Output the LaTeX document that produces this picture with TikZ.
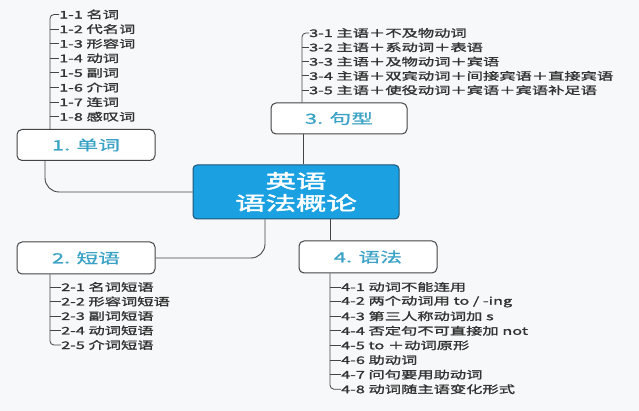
\documentclass[tikz,border=0pt]{standalone}
\usepackage{fontspec}
\setmainfont{Noto Sans CJK SC}
\newfontfamily\itemfont{Noto Sans CJK SC}[FakeStretch=1.55,FakeBold=1.6]
\newfontfamily\labfont{Noto Sans CJK SC}[FakeStretch=1.55,FakeBold=1]
\newfontfamily\titlefont{Noto Sans CJK SC}[FakeStretch=1.6,FakeBold=2.5]
\definecolor{bgc}{HTML}{F6F8FA}
\definecolor{cfill}{HTML}{1BA1E2}
\definecolor{cedge}{HTML}{1F5577}
\definecolor{labc}{HTML}{3AA2C6}
\definecolor{linec}{HTML}{444444}
\definecolor{itemc}{HTML}{333333}
\begin{document}
\begin{tikzpicture}[x=1pt,y=-1pt,
  topic/.style={draw=linec,line width=1pt,fill=white,rounded corners=5pt,
    minimum width=138pt,minimum height=31pt,inner sep=0pt,
    font=\labfont\fontsize{14}{16}\selectfont,text=labc},
  centre/.style={draw=cedge,line width=1pt,fill=cfill,rounded corners=4pt,
    minimum width=206pt,minimum height=54pt,inner sep=0pt,align=center,
    font=\titlefont\fontsize{19}{22}\selectfont,text=white},
  item/.style={anchor=west,inner sep=0pt,font=\itemfont\fontsize{10.5}{12}\selectfont,text=itemc},
  conn/.style={draw=linec,line width=0.9pt},
  tick/.style={draw=linec,line width=0.8pt}]
\fill[bgc] (0,0) rectangle (639,411);
\useasboundingbox (0,0) rectangle (639,411);

% main nodes
\node[centre] (c) at (296,192) {英语\\语法概论};
\node[topic] (n1) at (86,145) {1. 单词};
\node[topic,minimum width=136pt] (n3) at (339,118.5) {3. 句型};
\node[topic,minimum height=32pt] (n2) at (86,258) {2. 短语};
\node[topic,minimum height=32pt] (n4) at (368,257) {4. 语法};

% connectors to centre
\coordinate (a1) at (45,160);
\draw[conn,rounded corners=14pt] (n1.south -| a1) |- (c.west);
\coordinate (a3) at (303,0);
\draw[conn] (n3.south -| a3) -- (c.north -| a3);
\coordinate (a2) at (265,0);
\draw[conn,rounded corners=14pt] (c.south -| a2) |- (n2.east);
\coordinate (a4) at (330,0);
\draw[conn] (c.south -| a4) -- (n4.north -| a4);

% list 1
\coordinate (s1) at (50,0);
\foreach \i/\t [evaluate=\i as \y using 14.5+(\i-1)*14.6] in
  {1/{1-1 名词},2/{1-2 代名词},3/{1-3 形容词},4/{1-4 动词},5/{1-5 副词},6/{1-6 介词},7/{1-7 连词},8/{1-8 感叹词}}
  {\node[item] (i1\i) at (59,\y) {\t};}
\draw[tick,rounded corners=4pt] (i11.west) -- (i11.west -| s1) -- (n1.north -| s1);
\foreach \i in {2,...,8} {\draw[tick] (i1\i.west -| s1) -- (i1\i.west);}

% list 3
\coordinate (s3) at (302,0);
\foreach \i/\t [evaluate=\i as \y using 33+(\i-1)*14.3] in
  {1/{3-1 主语＋不及物动词},2/{3-2 主语＋系动词＋表语},3/{3-3 主语＋及物动词＋宾语},4/{3-4 主语＋双宾动词＋间接宾语＋直接宾语},5/{3-5 主语＋使役动词＋宾语＋宾语补足语}}
  {\node[item] (i3\i) at (309,\y) {\t};}
\draw[tick,rounded corners=4pt] (i31.west) -- (i31.west -| s3) -- (n3.north -| s3);
\foreach \i in {2,...,5} {\draw[tick] (i3\i.west -| s3) -- (i3\i.west);}

% list 2
\coordinate (s2) at (50,0);
\foreach \i/\t [evaluate=\i as \y using 287+(\i-1)*14.5] in
  {1/{2-1 名词短语},2/{2-2 形容词短语},3/{2-3 副词短语},4/{2-4 动词短语},5/{2-5 介词短语}}
  {\node[item] (i2\i) at (61,\y) {\t};}
\draw[tick,rounded corners=4pt] (n2.south -| s2) -- (i25.west -| s2) -- (i25.west);
\foreach \i in {1,...,4} {\draw[tick] (i2\i.west -| s2) -- (i2\i.west);}

% list 4
\coordinate (s4) at (330,0);
\foreach \i/\t [evaluate=\i as \y using 287+(\i-1)*14.6] in
  {1/{4-1 动词不能连用},2/{4-2 两个动词用 to / -ing},3/{4-3 第三人称动词加 s},4/{4-4 否定句不可直接加 not},5/{4-5 to ＋动词原形},6/{4-6 助动词},7/{4-7 问句要用助动词},8/{4-8 动词随主语变化形式}}
  {\node[item] (i4\i) at (341,\y) {\t};}
\draw[tick,rounded corners=4pt] (n4.south -| s4) -- (i48.west -| s4) -- (i48.west);
\foreach \i in {1,...,7} {\draw[tick] (i4\i.west -| s4) -- (i4\i.west);}
\end{tikzpicture}
\end{document}
